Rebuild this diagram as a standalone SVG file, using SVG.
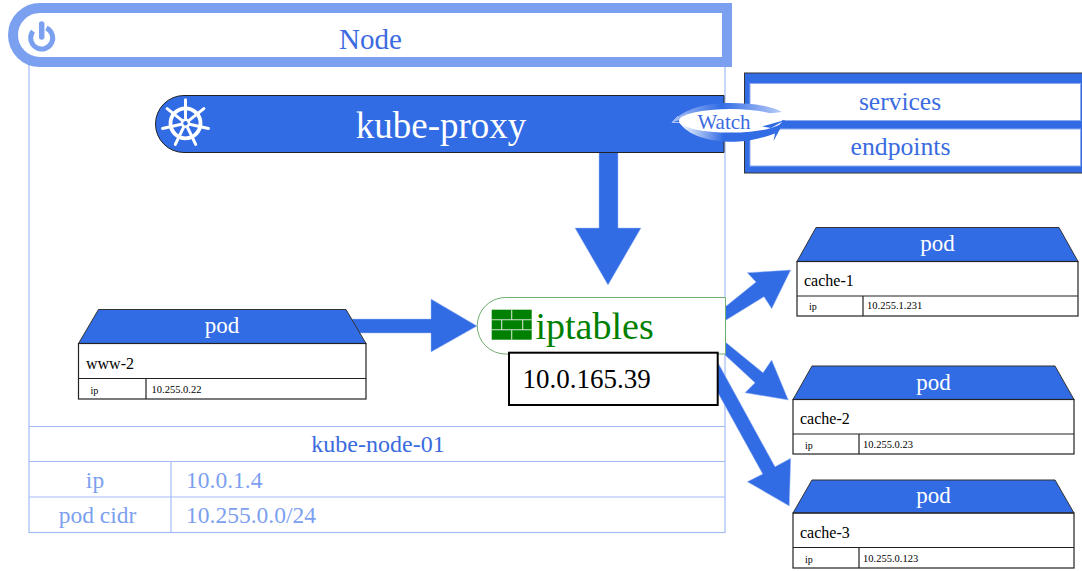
<svg xmlns="http://www.w3.org/2000/svg" width="1082" height="571" viewBox="0 0 1082 571">
<style>
text{font-family:"Liberation Serif","Times New Roman",serif}
.m{text-anchor:middle}
.b{fill:#3a6be0}
.l{fill:#7c9ff0}
.w{fill:#fff}
.k{fill:#000}
.blue{fill:#326ce5}
.ln{stroke:#a3bbf5;stroke-width:1.2;fill:none}
.pl{stroke:#222;stroke-width:1.2;fill:none}
.arrow{fill:#326ce5;stroke:#a3bbf5;stroke-width:.5}
</style>
<defs>
<linearGradient id="sw" gradientUnits="userSpaceOnUse" x1="679" x2="785" y1="0" y2="0"><stop offset="0" stop-color="#fff"/><stop offset=".42" stop-color="#326ce5"/></linearGradient>
<linearGradient id="st" gradientUnits="userSpaceOnUse" x1="672" x2="782" y1="0" y2="0"><stop offset="0" stop-color="#a9c0f5"/><stop offset=".45" stop-color="#326ce5"/><stop offset="1" stop-color="#b9ccf7"/></linearGradient>
</defs>
<g id="node-frame">
<rect x="29" y="40" width="696" height="492.5" class="ln"/>
<path d="M29 426.5H725M29 461.500H725M29 497H725M171 461.500V532.500" class="ln"/>
<text x="378" y="452" font-size="24" class="m b">kube-node-01</text>
<text x="95" y="488" font-size="23.500" class="m l">ip</text>
<text x="186" y="488" font-size="23.500" class="l">10.0.1.4</text>
<text x="97.500" y="523" font-size="23.500" class="m l">pod cidr</text>
<text x="186" y="523" font-size="23.500" class="l">10.255.0.0/24</text>
</g>
<g id="node-header">
<path d="M727 8H40A27 27 0 0 0 40 62H727Z" fill="#fff" stroke="#7ba0ef" stroke-width="10"/>
<circle cx="41.700" cy="38" r="11" fill="none" stroke="#7ba0ef" stroke-width="5" stroke-dasharray="54 15" transform="rotate(-65 41.700 38)"/>
<path d="M41.700 24V37" stroke="#7ba0ef" stroke-width="5.500" stroke-linecap="round"/>
<text x="370.500" y="49" font-size="29" class="m b">Node</text>
</g>
<g id="connectors">
<path class="arrow" d="M599 152H618V228H641L608 285L575 228H599Z"/>
<path class="arrow" d="M352 319H431V299L477 326L431 352V333H352Z"/>
<path class="arrow" d="M725 307L756 282L747.300 272.700L790.700 270L771.700 308.700L764 296.700L725 320.700Z"/>
<path class="arrow" d="M725 341.700L763 372.700L771.700 360L788.300 400L745 392.700L755 382.700L725 355Z"/>
<path class="arrow" d="M718.300 363.300L775 466.700L790.700 458.300L789.300 506L747.300 481.700L762.700 474L717.300 391.700Z"/>
</g>
<g id="kube-proxy">
<path d="M724 95.500H184A28.500 28.500 0 0 0 184 152.500H724Z" class="blue" stroke="#222" stroke-width="1"/>
<g transform="translate(185.500 123.300)" fill="none" stroke="#fff" stroke-linecap="round">
<circle r="15" stroke-width="3.800"/>
<g stroke-width="3"><path d="M0 -3V-23.500"/><path d="M0 -3V-23.500" transform="rotate(51.430)"/><path d="M0 -3V-23.500" transform="rotate(102.860)"/><path d="M0 -3V-23.500" transform="rotate(154.290)"/><path d="M0 -3V-23.500" transform="rotate(205.710)"/><path d="M0 -3V-23.500" transform="rotate(257.140)"/><path d="M0 -3V-23.500" transform="rotate(308.570)"/></g>
<circle r="4.800" fill="#fff" stroke="none"/>
<circle r="2.200" fill="#326ce5" stroke="none"/>
</g>
<text x="441" y="138" font-size="37" class="m w">kube-proxy</text>
</g>
<g id="api-box">
<rect x="744.500" y="73" width="345" height="100" class="blue" stroke="#333" stroke-width="1"/>
<rect x="750" y="83.500" width="330.500" height="37" fill="#fff" stroke="#8fa9ef"/>
<rect x="750" y="129" width="330.500" height="37" fill="#fff" stroke="#8fa9ef"/>
<text x="900" y="110" font-size="25.500" class="m b">services</text>
<text x="900.500" y="155" font-size="25.700" class="m b">endpoints</text>
</g>
<g id="watch">
<path d="M672 122.500C684 108 708 103 730 103C752 103 772 106 782 112L730 118L680 120Z" fill="url(#st)"/>
<path d="M672 122.500L678 116M672 122.500L680 122.500" stroke="#a9c0f5" fill="none"/>
<path d="M679 122C688 136 710 142 735 141.700C750 141.500 762 138 775 133.500L773.500 141L785 120L762 126L730 120Z" fill="url(#sw)"/>
<ellipse cx="730.500" cy="120.800" rx="51.500" ry="11.800" fill="#fff"/>
<path d="M785 120L762 126.500L771 128Z" fill="#326ce5"/>
<text x="724" y="129" font-size="21" class="m b">Watch</text>
</g>
<g id="iptables">
<path d="M725.500 297.500H505.500A28 28 0 0 0 505.500 354H725.500Z" fill="#fff" stroke="#6fae6f" stroke-width="1"/>
<rect x="491.700" y="309.700" width="40" height="30" fill="#008000"/>
<path d="M491.700 319.800H531.700M491.700 329.700H531.700M511.700 309.700V319.800M501.700 319.800V329.700M522.700 319.800V329.700M511.700 329.700V339.700" stroke="#cfe5cf" stroke-width="1.100" fill="none"/>
<text x="535.500" y="339" font-size="38" fill="#008000">iptables</text>
<rect x="509" y="352.700" width="208.700" height="52.300" fill="#fff" stroke="#000" stroke-width="2"/>
<text x="522.500" y="388" font-size="27" class="k">10.0.165.39</text>
</g>
<g id="pod-www-2" transform="translate(78.500 309.500)">
<path d="M0 34L20 0H267.500L287.500 34Z" class="blue" stroke="#333"/>
<rect y="34" width="287.500" height="55.500" fill="#fff" class="pl"/>
<path d="M0 69H287.500M67.500 69V89.500" class="pl"/>
<text x="143.500" y="23" font-size="23" class="m w">pod</text>
<text x="7.500" y="59" font-size="16" class="k">www-2</text>
<text x="12" y="84" font-size="10" class="k">ip</text>
<text x="73" y="83" font-size="10.500" class="k">10.255.0.22</text>
</g>
<g id="pod-cache-1" transform="translate(797 227.500)">
<path d="M0 34L19 0H262L281 34Z" class="blue" stroke="#333"/>
<rect y="34" width="281" height="54.500" fill="#fff" class="pl"/>
<path d="M0 68.500H281M66 68.500V88.500" class="pl"/>
<text x="140.500" y="23" font-size="23" class="m w">pod</text>
<text x="7" y="58" font-size="16" class="k">cache-1</text>
<text x="12" y="82.500" font-size="10" class="k">ip</text>
<text x="70" y="81.500" font-size="10.500" class="k">10.255.1.231</text>
</g>
<g id="pod-cache-2" transform="translate(793 366)">
<path d="M0 33.500L19 0H262L281 33.500Z" class="blue" stroke="#333"/>
<rect y="33.500" width="281" height="54.500" fill="#fff" class="pl"/>
<path d="M0 68H281M66 68V88" class="pl"/>
<text x="140.500" y="24" font-size="23" class="m w">pod</text>
<text x="7" y="58" font-size="16" class="k">cache-2</text>
<text x="12" y="83" font-size="10" class="k">ip</text>
<text x="70" y="82" font-size="10.500" class="k">10.255.0.23</text>
</g>
<g id="pod-cache-3" transform="translate(793 480)">
<path d="M0 33L19 0H262L281 33Z" class="blue" stroke="#333"/>
<rect y="33" width="281" height="55" fill="#fff" class="pl"/>
<path d="M0 67.500H281M66 67.500V88" class="pl"/>
<text x="140.500" y="23" font-size="23" class="m w">pod</text>
<text x="7" y="58" font-size="16" class="k">cache-3</text>
<text x="12" y="83" font-size="10" class="k">ip</text>
<text x="70" y="82" font-size="10.500" class="k">10.255.0.123</text>
</g>
</svg>
